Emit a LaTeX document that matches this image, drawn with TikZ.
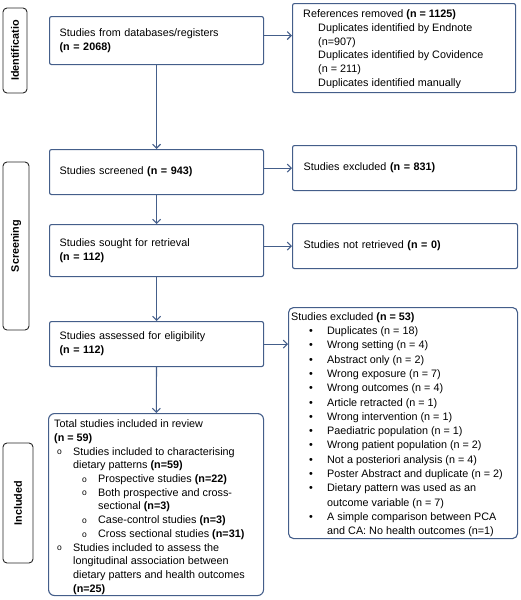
\documentclass[tikz,border=0pt]{standalone}
\usepackage{fontspec}
\setmainfont{Liberation Sans}
\usetikzlibrary{arrows.meta,calc}
\definecolor{bx}{RGB}{68,94,138}
\newcommand{\bl}{\hspace*{18pt}\makebox[18pt][l]{\textbullet}}
\newcommand{\bc}{\hspace*{36pt}}
\newcommand{\ob}{\makebox[16pt][l]{\raisebox{0.3pt}{\fontsize{8.5}{9}\selectfont o}}}
\begin{document}
\begin{tikzpicture}[x=1pt,y=-1pt,
  font=\fontsize{10.8}{13.7}\selectfont,
  box/.style={draw=bx, line width=1.1pt, rounded corners=2pt, anchor=north west,
    align=left, inner xsep=10pt, inner ysep=0pt, text width=#1},
  box/.default=194pt,
  rbox/.style={draw=bx, line width=1.1pt, rounded corners=6pt, anchor=north west, inner sep=0pt},
  txt/.style={anchor=north west, inner sep=0pt, align=left},
  phase/.style={draw=black!85, line width=0.9pt, rounded corners=4pt, rotate=90,
    inner sep=0pt, font=\fontsize{10.8}{13}\selectfont\bfseries},
  arr/.style={draw=bx, line width=1.1pt, -{Straight Barb[length=4pt,width=8pt]}}]
\useasboundingbox (0,0) rectangle (520,600);

% phase labels
\node[phase, minimum width=85pt, minimum height=24pt] (p1) at (15,50.5) {Identificatio};
\node[phase, minimum width=168pt, minimum height=26pt] (p2) at (16,246) {Screening};
\node[phase, minimum width=120pt, minimum height=30pt] (p3) at (18,503) {Included};

% main column
\node[box, minimum height=48pt] (b1) at (49,16) {Studies from databases/registers\\\textbf{(n = 2068)}};
\node[box, minimum height=45pt] (b2) at (49,149) {Studies screened \textbf{(n = 943)}};
\node[box, minimum height=52pt] (b3) at (49,224) {Studies sought for retrieval\\\textbf{(n = 112)}};
\node[box, minimum height=45pt] (b4) at (49,321) {Studies assessed for eligibility\\\textbf{(n = 112)}};

% right column
\node[box=201pt, inner xsep=11pt, minimum height=89pt] (ref) at (292,3) {};
\begin{scope}
\clip (292,3) rectangle (515,87);
\node[txt] (reft) at (303,8) {\begin{tabular}{@{}l@{}}
References removed \textbf{(n = 1125)}\\
\hspace*{15pt}Duplicates identified by Endnote\\
\hspace*{15pt}(n=907)\\
\hspace*{15pt}Duplicates identified by Covidence\\
\hspace*{15pt}(n = 211)\\
\hspace*{15pt}Duplicates identified manually
\end{tabular}};
\end{scope}
\node[box=202pt, inner xsep=11pt, minimum height=45pt] (ex1) at (292,145) {Studies excluded \textbf{(n = 831)}};
\node[box=203pt, inner xsep=11pt, minimum height=45pt] (nr) at (292,223) {Studies not retrieved \textbf{(n = 0)}};

\node[rbox, rounded corners=5pt, minimum width=229pt, minimum height=231pt] (ex2) at (288,307) {};
\node[txt] (ex2t) at (291,310) {\fontsize{10.8}{14.3}\selectfont\begin{tabular}{@{}l@{}}
Studies excluded \textbf{(n = 53)}\\
\bl Duplicates (n = 18)\\
\bl Wrong setting (n = 4)\\
\bl Abstract only (n = 2)\\
\bl Wrong exposure (n = 7)\\
\bl Wrong outcomes (n = 4)\\
\bl Article retracted (n = 1)\\
\bl Wrong intervention (n = 1)\\
\bl Paediatric population (n = 1)\\
\bl Wrong patient population (n = 2)\\
\bl Not a posteriori analysis (n = 4)\\
\bl Poster Abstract and duplicate (n = 2)\\
\bl Dietary pattern was used as an\\
\bc outcome variable (n = 7)\\
\bl A simple comparison between PCA\\
\bc and CA: No health outcomes (n=1)
\end{tabular}};

\node[rbox, minimum width=215pt, minimum height=182pt] (inc) at (48,413) {};
\node[txt] (inct) at (54,418) {\begin{tabular}{@{}l@{}}
Total studies included in review\\
\textbf{(n = 59)}\\
\hspace*{3pt}\ob Studies included to characterising\\
\hspace*{19pt}dietary patterns \textbf{(n=59)}\\
\hspace*{28pt}\ob Prospective studies \textbf{(n=22)}\\
\hspace*{28pt}\ob Both prospective and cross-\\
\hspace*{44pt}sectional \textbf{(n=3)}\\
\hspace*{28pt}\ob Case-control studies \textbf{(n=3)}\\
\hspace*{28pt}\ob Cross sectional studies \textbf{(n=31)}\\
\hspace*{3pt}\ob Studies included to assess the\\
\hspace*{19pt}longitudinal association between\\
\hspace*{19pt}dietary patters and health outcomes\\
\hspace*{19pt}\textbf{(n=25)}
\end{tabular}};

% connectors
\draw[arr] (b1) -- (b2);
\draw[arr] (b2) -- (b3);
\draw[arr] (b3) -- (b4);
\draw[arr] (b4) -- (inc);
\draw[arr] ([yshift=5pt]b1.east) -- ([yshift=5pt]b1.east -| ref.west);
\draw[arr] (b2.east |- ex1.west) -- (ex1.west);
\draw[arr] (b3.east |- nr.west) -- (nr.west);
\draw[arr] (b4.east) -- (b4.east -| ex2.west);
\end{tikzpicture}
\end{document}
